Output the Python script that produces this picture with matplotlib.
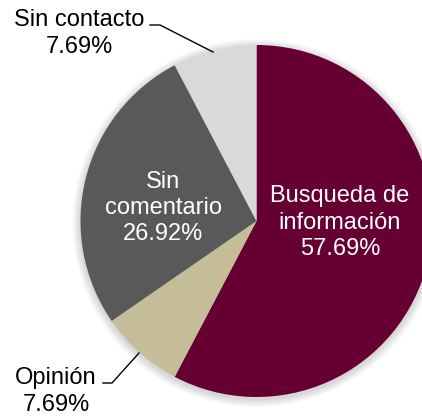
import matplotlib
matplotlib.use("Agg")
import matplotlib.pyplot as plt
from matplotlib.patches import Circle

categories = ["Busqueda de\ninformación", "Opinión", "Sin\ncomentario", "Sin contacto"]
values = [57.69, 7.69, 26.92, 7.69]
colors = ["#660033", "#C4BD97", "#595959", "#D9D9D9"]

W, H = 422, 417
plt.rcParams['font.family'] = ['Liberation Sans', 'DejaVu Sans']
fig = plt.figure(figsize=(W / 100, H / 100), dpi=100)
ax = fig.add_axes([0, 0, 1, 1])

def py(y):
    return H - y

cx, cy, r = 256.5, py(221), 176

# soft shadow
for k in range(8, 0, -1):
    ax.add_patch(Circle((cx, cy - 2), r + k, color='black', alpha=0.018, lw=0, zorder=0))

ax.pie(values, colors=colors, startangle=90, counterclock=False,
       center=(cx, cy), radius=r, frame=True,
       wedgeprops=dict(linewidth=0, zorder=1))
ax.set_xlim(0, W)
ax.set_ylim(0, H)
ax.set_aspect('equal')
ax.axis('off')

fs = 17
ls = 1.25
labels = [f"{c}\n{v:.2f}%" for c, v in zip(categories, values)]

# inner labels
ax.text(340, py(222.5), labels[0], color='white', ha='center', va='center',
        fontsize=fs, linespacing=ls, zorder=3)
ax.text(163, py(208), labels[2], color='white', ha='center', va='center',
        fontsize=fs, linespacing=ls, zorder=3)

# outer labels
ax.text(79, py(33.5), labels[3], color='black', ha='center', va='center',
        fontsize=fs, linespacing=ls, zorder=3)
ax.plot([150, 160, 213], [py(25), py(25), py(52)], color='black', lw=1, zorder=3)

ax.text(56, py(391.5), labels[1], color='black', ha='center', va='center',
        fontsize=fs, linespacing=ls, zorder=3)
ax.plot([103, 112, 139], [py(383), py(383), py(353)], color='black', lw=1, zorder=3)

fig.savefig("out.png", dpi=100)
